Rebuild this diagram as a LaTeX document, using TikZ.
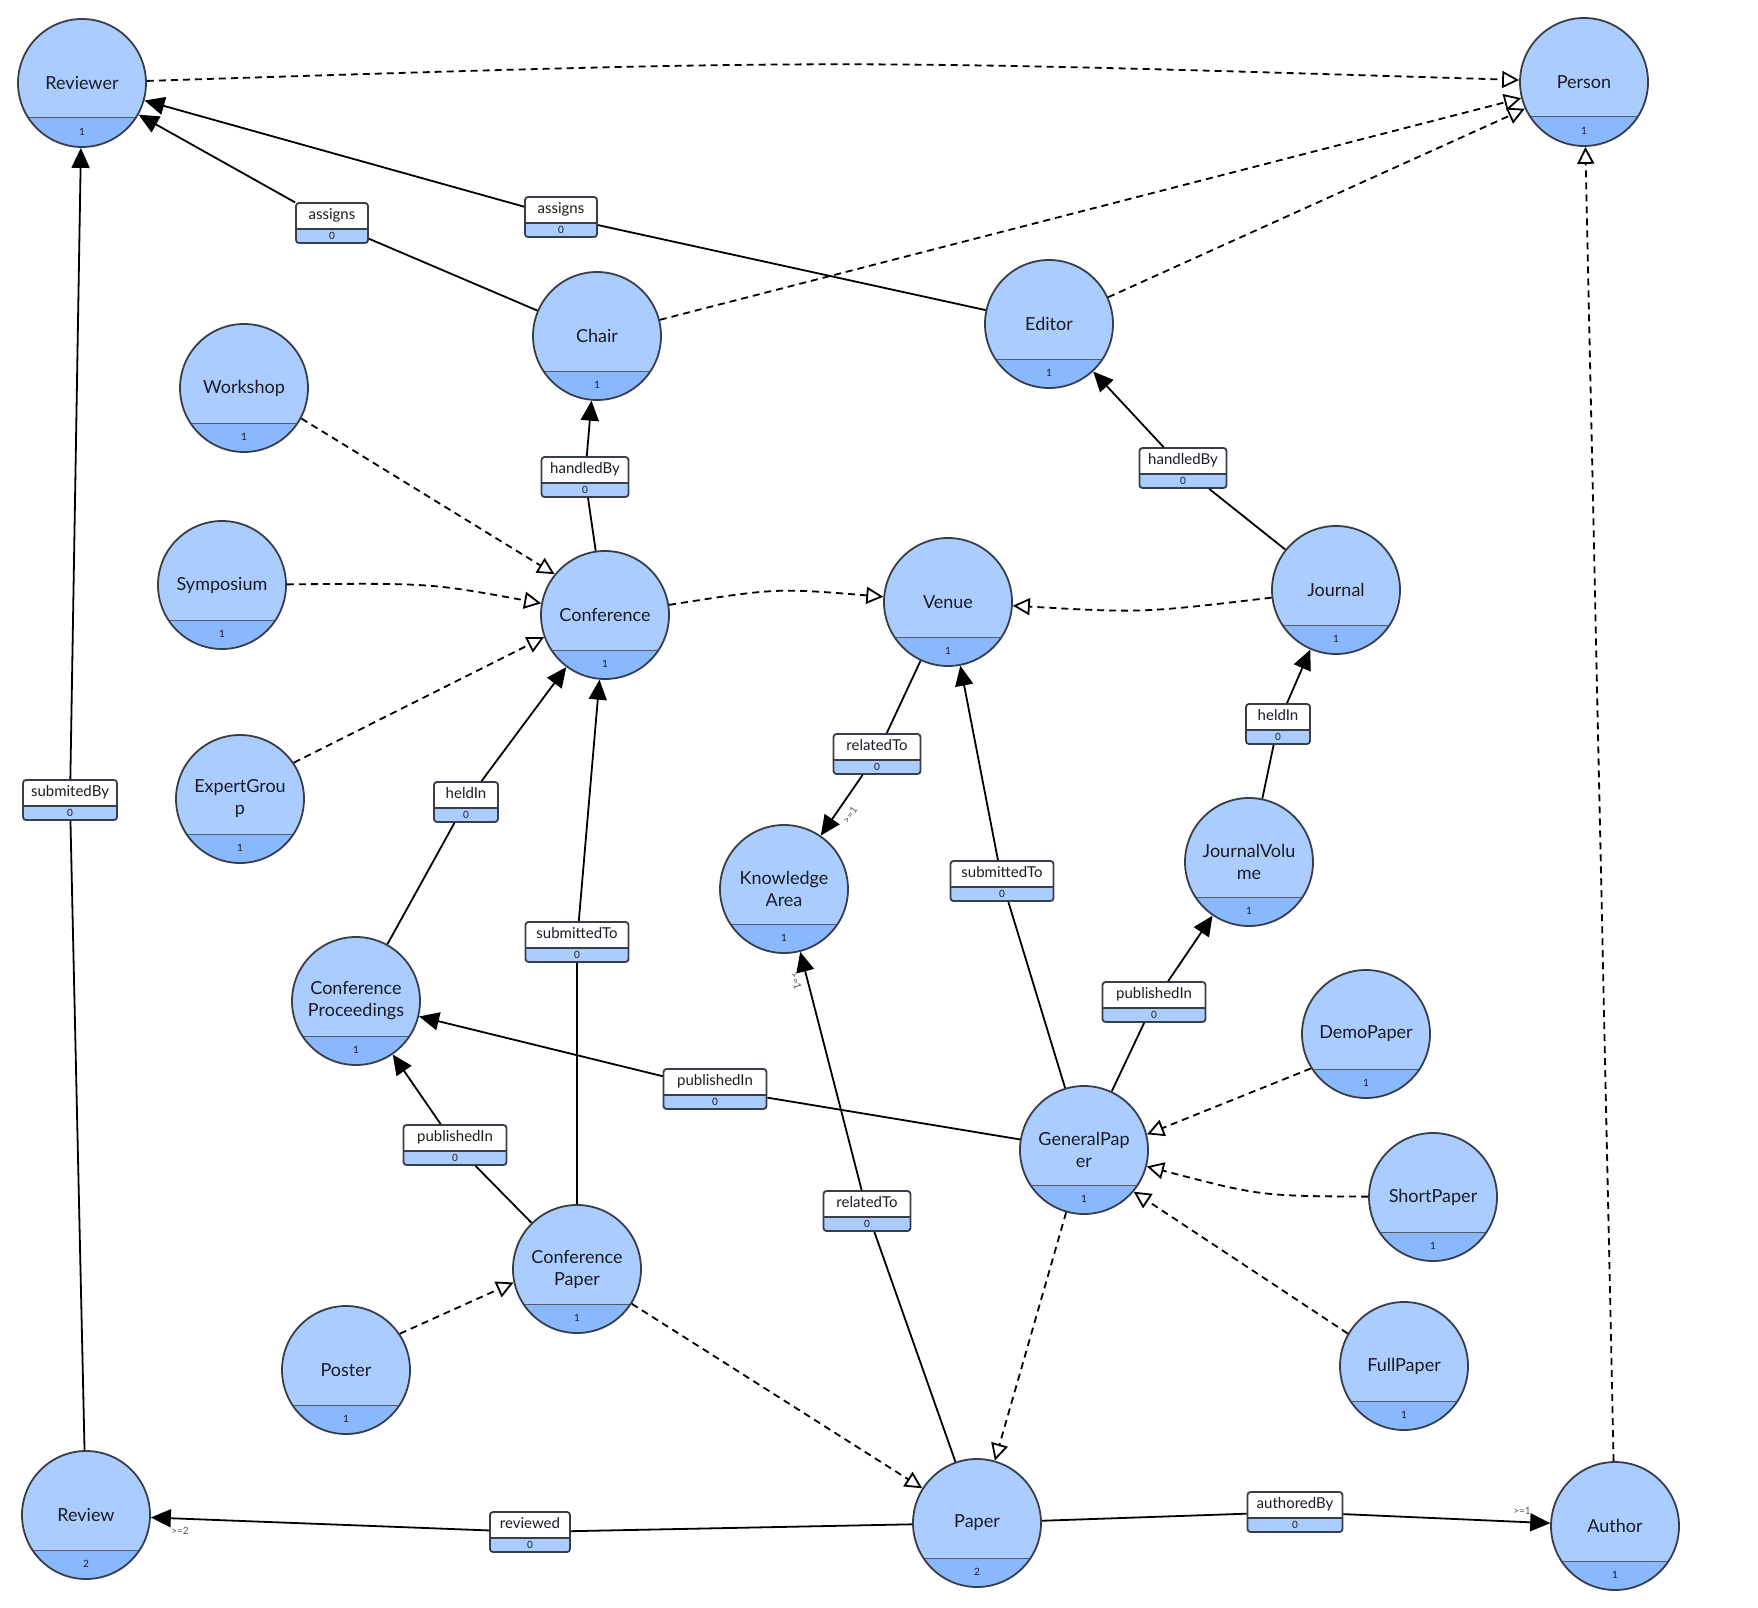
\documentclass[tikz,border=0pt]{standalone}
\usepackage{fontspec}
\setmainfont{Lato}
\usetikzlibrary{arrows.meta,calc}
\definecolor{lblue}{RGB}{170,204,255}
\definecolor{dblue}{RGB}{138,184,255}
\definecolor{bord}{RGB}{56,62,72}
\definecolor{txt}{RGB}{25,28,35}
\definecolor{multc}{RGB}{85,85,85}
\tikzset{
 entity/.style={circle, draw=bord, line width=1.8pt, fill=lblue, minimum size=128pt, inner sep=0pt,
   align=center, text=txt, font=\fontsize{18}{22}\selectfont,
   path picture={
     \fill[dblue] ([xshift=-70pt,yshift=-35pt]path picture bounding box.center) rectangle ([xshift=70pt,yshift=-70pt]path picture bounding box.center);
     \draw[bord!85, line width=1pt] ([xshift=-70pt,yshift=-35pt]path picture bounding box.center) -- ([xshift=70pt,yshift=-35pt]path picture bounding box.center);}},
 cnt/.style={font=\fontsize{10}{12}\selectfont, text=txt, inner sep=0pt},
 relbox/.style={rectangle, draw=bord, line width=1.8pt, fill=white, rounded corners=3pt, minimum height=40pt, inner sep=0pt,
   path picture={
     \fill[lblue] ([xshift=-60pt,yshift=-6pt]path picture bounding box.center) rectangle ([xshift=60pt,yshift=-30pt]path picture bounding box.center);
     \draw[bord, line width=1.2pt] ([xshift=-60pt,yshift=-6pt]path picture bounding box.center) -- ([xshift=60pt,yshift=-6pt]path picture bounding box.center);}},
 reltext/.style={font=\fontsize{15}{17}\selectfont, text=txt, inner sep=0pt, text height=10.5pt, text depth=3pt},
 assocline/.style={line width=1.8pt, black},
 arrline/.style={assocline, -{Triangle[length=20pt,width=18pt]}},
 inh/.style={line width=1.8pt, black, dash pattern=on 7pt off 5pt, -{Triangle[open,length=17pt,width=17pt,fill=white]}},
 multl/.style={font=\fontsize{10}{11}\selectfont, text=multc, inner sep=0pt},
}
\newcommand{\entnode}[5]{%
  \node[entity] (#1) at (#2,#3) {#4};
  \node[cnt] (#1-c) at ([yshift=-49pt]#1.center) {#5};}
\newcommand{\relnode}[5]{%
  \node[relbox, minimum width=#4pt] (#1) at (#2,#3) {};
  \node[reltext] (#1-t) at ([yshift=7pt]#1.center) {#5};
  \node[cnt] (#1-c) at ([yshift=-13pt]#1.center) {0};}
\newcommand{\relline}[3]{%
  \draw[assocline] (#1) -- (#2);
  \draw[arrline] (#2) -- (#3);}
\begin{document}
\begin{tikzpicture}[x=1pt,y=-1pt]
\useasboundingbox[fill=white] (0,0) rectangle (1758,1608);
% entities
\entnode{Reviewer}{82}{83}{Reviewer}{1}
\entnode{Person}{1584}{82}{Person}{1}
\entnode{Chair}{597}{336}{Chair}{1}
\entnode{Editor}{1049}{324}{Editor}{1}
\entnode{Workshop}{244}{388}{Workshop}{1}
\entnode{Symposium}{222}{585}{Symposium}{1}
\entnode{Conference}{605}{615}{Conference}{1}
\entnode{Venue}{948}{602}{Venue}{1}
\entnode{Journal}{1336}{590}{Journal}{1}
\entnode{ExpertGroup}{240}{799}{ExpertGrou\\p}{1}
\entnode{KA}{784}{889}{Knowledge\\Area}{1}
\entnode{JV}{1249}{862}{JournalVolu\\me}{1}
\entnode{CProc}{356}{1001}{Conference\\Proceedings}{1}
\entnode{Demo}{1366}{1034}{DemoPaper}{1}
\entnode{GP}{1084}{1150}{GeneralPap\\er}{1}
\entnode{Short}{1433}{1197}{ShortPaper}{1}
\entnode{CP}{577}{1269}{Conference\\Paper}{1}
\entnode{Full}{1404}{1366}{FullPaper}{1}
\entnode{Poster}{346}{1370}{Poster}{1}
\entnode{Review}{86}{1515}{Review}{2}
\entnode{Paper}{977}{1523}{Paper}{2}
\entnode{Author}{1615}{1526}{Author}{1}
% relation boxes
\relnode{r1}{332}{223}{72}{assigns}
\relnode{r2}{561}{217}{72}{assigns}
\relnode{r3}{585}{477}{87}{handledBy}
\relnode{r4}{1183}{468}{87}{handledBy}
\relnode{r5}{877}{754}{87}{relatedTo}
\relnode{r6}{466}{802}{64}{heldIn}
\relnode{r7}{1278}{724}{64}{heldIn}
\relnode{r8}{577}{942}{103}{submittedTo}
\relnode{r9}{1002}{881}{103}{submittedTo}
\relnode{r10}{1154}{1002}{103}{publishedIn}
\relnode{r11}{715}{1089}{103}{publishedIn}
\relnode{r12}{455}{1145}{103}{publishedIn}
\relnode{r13}{70}{800}{94}{submitedBy}
\relnode{r14}{867}{1211}{87}{relatedTo}
\relnode{r15}{530}{1532}{80}{reviewed}
\relnode{r16}{1295}{1512}{95}{authoredBy}
% associations
\relline{Chair}{r1}{Reviewer}
\relline{Editor}{r2}{Reviewer}
\relline{Conference}{r3}{Chair}
\relline{Journal}{r4}{Editor}
\relline{Venue}{r5}{KA}
\relline{CProc}{r6}{Conference}
\relline{JV}{r7}{Journal}
\relline{CP}{r8}{Conference}
\relline{GP}{r9}{Venue}
\relline{GP}{r10}{JV}
\relline{GP}{r11}{CProc}
\relline{CP}{r12}{CProc}
\relline{Review}{r13}{Reviewer}
\relline{Paper}{r14}{KA}
\relline{Paper}{r15}{Review}
\relline{Paper}{r16}{Author}
% inheritance
\draw[inh] (Reviewer) .. controls (834,59) .. (Person);
\draw[inh] (Chair) -- (Person);
\draw[inh] (Editor) -- (Person);
\draw[inh] (Author) -- (Person);
\draw[inh] (Workshop.-28) -- (Conference.141);
\draw[inh] (Symposium) .. controls (430,583) .. (Conference);
\draw[inh] (ExpertGroup.34) -- (Conference.200);
\draw[inh] (Conference) .. controls (776,588) .. (Venue);
\draw[inh] (Journal) .. controls (1142,613) .. (Venue);
\draw[inh] (Demo.212) -- (GP.14);
\draw[inh] (Short) .. controls (1260,1196) .. (GP);
\draw[inh] (Full.150) -- (GP.-40);
\draw[inh] (Poster.34) -- (CP.192);
\draw[inh] (CP) -- (Paper);
\draw[inh] (GP) -- (Paper);
% multiplicities
\node[multl, rotate=55] (m1) at (850,815) {>=1};
\node[multl, rotate=-73] (m2) at (796,981) {>=1};
\node[multl] (m3) at (180,1531) {>=2};
\node[multl] (m4) at (1522,1511) {>=1};
\end{tikzpicture}
\end{document}
